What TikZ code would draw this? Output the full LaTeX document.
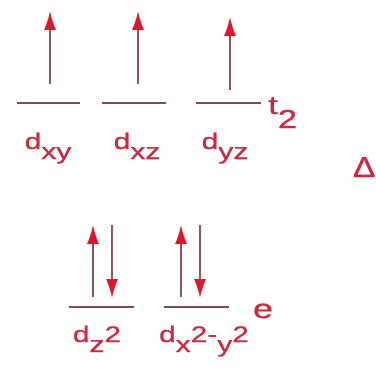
\documentclass[tikz,border=0pt]{standalone}
\usepackage{fontspec}
\setmainfont{Liberation Sans}
\newfontfamily\labfont{Liberation Sans}[FakeBold=0.6]
\usetikzlibrary{arrows.meta}
\definecolor{lvl}{RGB}{130,75,90}
\definecolor{shaft}{RGB}{140,85,100}
\definecolor{tipred}{RGB}{225,20,45}
\definecolor{txt}{RGB}{205,40,60}
\tikzset{
  level/.style={draw=lvl, line width=2pt},
  spin/.style={draw=shaft, line width=1.6pt, -{Latex[length=19pt,width=12pt,color=tipred]}},
  lab/.style={text=txt, font=\labfont\fontsize{22.5}{22.5}\selectfont, inner sep=0pt, anchor=base},
}
\newcommand{\hs}[1]{\scalebox{1.33}[1]{#1}}
\newcommand{\lowr}[1]{\raisebox{-10pt}{#1}}
\begin{document}
\begin{tikzpicture}[x=1pt,y=-1pt]
\useasboundingbox (0,0) rectangle (376,367);
% t2 levels
\coordinate (L1a) at (17,103);  \coordinate (L1b) at (80,103);
\coordinate (L2a) at (102,103); \coordinate (L2b) at (166,103);
\coordinate (L3a) at (196,103); \coordinate (L3b) at (261,103);
\draw[level] (L1a) -- (L1b);
\draw[level] (L2a) -- (L2b);
\draw[level] (L3a) -- (L3b);
% e levels
\coordinate (E1a) at (69,307);  \coordinate (E1b) at (134,307);
\coordinate (E2a) at (164,307); \coordinate (E2b) at (229,307);
\draw[level] (E1a) -- (E1b);
\draw[level] (E2a) -- (E2b);
% spins t2
\coordinate (s1b) at (50,84);  \coordinate (s1t) at (50,11);
\coordinate (s2b) at (138,84); \coordinate (s2t) at (138,11);
\coordinate (s3b) at (230,90); \coordinate (s3t) at (230,17);
\draw[spin] (s1b) -- (s1t);
\draw[spin] (s2b) -- (s2t);
\draw[spin] (s3b) -- (s3t);
% spins e
\coordinate (u1b) at (93,297);  \coordinate (u1t) at (93,225);
\coordinate (d1t) at (112,225); \coordinate (d1b) at (112,298);
\coordinate (u2b) at (181,297); \coordinate (u2t) at (181,225);
\coordinate (d2t) at (200,225); \coordinate (d2b) at (200,298);
\draw[spin] (u1b) -- (u1t);
\draw[spin] (d1t) -- (d1b);
\draw[spin] (u2b) -- (u2t);
\draw[spin] (d2t) -- (d2b);
% labels
\node[lab] (dxy) at (48,149) {\hs{d\lowr{xy}}};
\node[lab] (dxz) at (137,149) {\hs{d\lowr{xz}}};
\node[lab] (dyz) at (225,149) {\hs{d\lowr{yz}}};
\node[lab, anchor=base west, font=\labfont\fontsize{26}{26}\selectfont] (t2) at (268,114) {\hs{t\raisebox{-14pt}{2}}};
\node[lab, anchor=base east, font=\labfont\fontsize{29}{29}\selectfont] (Delta) at (375.5,177) {\scalebox{1.15}[1]{Δ}};
\node[lab] (dz2) at (97,342) {\hs{d\lowr{z}2}};
\node[lab] (dx2y2) at (204,342) {\hs{d\lowr{x}2-\lowr{y}2}};
\node[lab, font=\labfont\fontsize{27}{27}\selectfont] (e) at (263,318) {\hs{e}};
\end{tikzpicture}
\end{document}
